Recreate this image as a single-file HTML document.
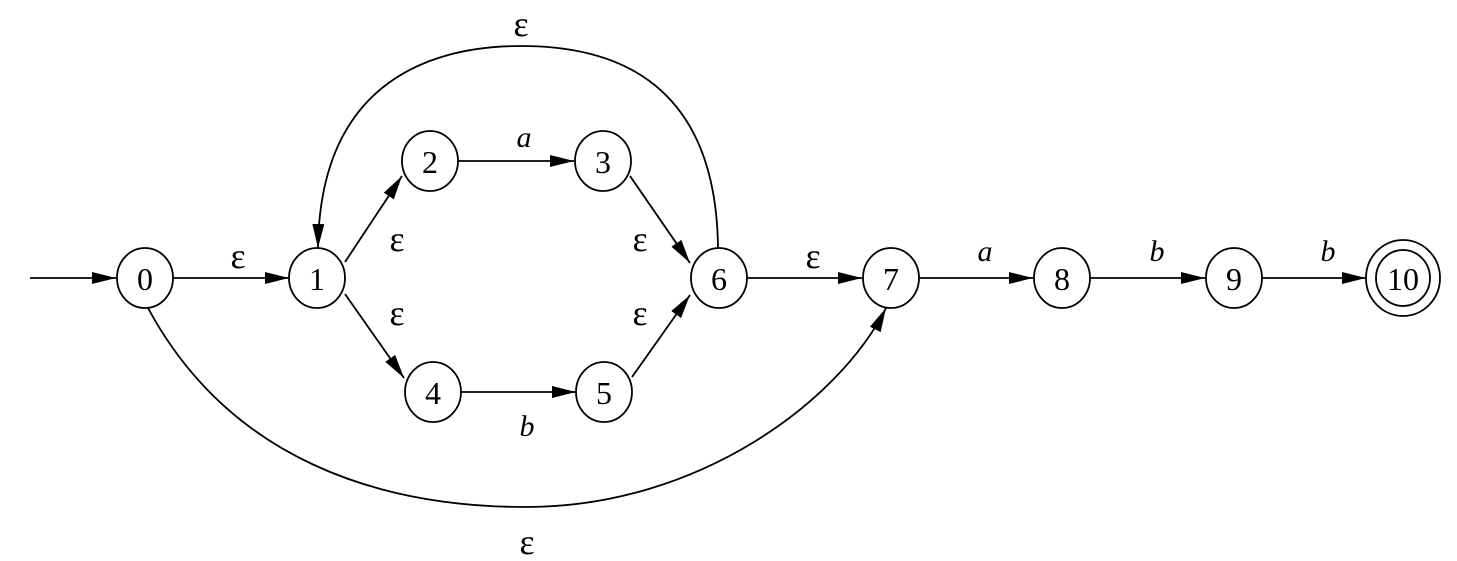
<!DOCTYPE html>
<html><head><style>html,body{margin:0;padding:0;background:#fff}</style></head>
<body>
<svg width="1457" height="556" viewBox="0 0 1457 556" xmlns="http://www.w3.org/2000/svg" font-family="Liberation Serif, serif">
<defs><marker id="ah" markerWidth="24" markerHeight="12" refX="24" refY="6" orient="auto" markerUnits="userSpaceOnUse"><path d="M0,0 L24,6 L0,12 z" fill="#000"/></marker></defs>
<g stroke="#000" stroke-width="1.8" fill="none">
<line x1="30" y1="278" x2="116" y2="278" marker-end="url(#ah)"/>
<line x1="173" y1="278" x2="289" y2="278" marker-end="url(#ah)"/>
<line x1="345" y1="262" x2="402" y2="176" marker-end="url(#ah)"/>
<line x1="345" y1="294" x2="404" y2="378" marker-end="url(#ah)"/>
<line x1="458" y1="161" x2="574" y2="161" marker-end="url(#ah)"/>
<line x1="461" y1="392" x2="576" y2="392" marker-end="url(#ah)"/>
<line x1="630" y1="176" x2="690" y2="263" marker-end="url(#ah)"/>
<line x1="632" y1="377" x2="690" y2="295" marker-end="url(#ah)"/>
<line x1="747" y1="278" x2="862" y2="278" marker-end="url(#ah)"/>
<line x1="919" y1="278" x2="1033" y2="278" marker-end="url(#ah)"/>
<line x1="1090" y1="278" x2="1205" y2="278" marker-end="url(#ah)"/>
<line x1="1262" y1="278" x2="1366" y2="278" marker-end="url(#ah)"/>
<path d="M718,248 C716,70 600,46 521,46 C420,46 320,90 318,248" marker-end="url(#ah)"/>
<path d="M148,308 C230,460 380,507 526,507 C700,507 840,400 886,308" marker-end="url(#ah)"/>
<ellipse cx="145" cy="278" rx="28" ry="30"/>
<ellipse cx="317" cy="278" rx="28" ry="30"/>
<ellipse cx="430" cy="161" rx="28" ry="30"/>
<ellipse cx="603" cy="161" rx="28" ry="30"/>
<ellipse cx="433" cy="392" rx="28" ry="30"/>
<ellipse cx="604" cy="392" rx="28" ry="30"/>
<ellipse cx="719" cy="278" rx="28" ry="30"/>
<ellipse cx="891" cy="278" rx="28" ry="30"/>
<ellipse cx="1062" cy="278" rx="28" ry="30"/>
<ellipse cx="1234" cy="278" rx="28" ry="30"/>
<ellipse cx="1403" cy="278" rx="37" ry="38"/>
<ellipse cx="1403" cy="278" rx="27" ry="28"/>
</g>
<g font-size="32" text-anchor="middle" fill="#000">
<text x="145" y="290">0</text><text x="317" y="290">1</text><text x="430" y="173">2</text>
<text x="603" y="173">3</text><text x="433" y="404">4</text><text x="604" y="404">5</text>
<text x="719" y="290">6</text><text x="891" y="290">7</text><text x="1062" y="290">8</text>
<text x="1234" y="290">9</text><text x="1403" y="290">10</text>
</g>
<g font-size="36" text-anchor="middle" fill="#000">
<text x="521" y="36">ε</text><text x="527" y="554">ε</text>
<text x="238" y="268">ε</text><text x="397" y="251">ε</text><text x="397" y="325">ε</text>
<text x="640" y="251">ε</text><text x="640" y="325">ε</text><text x="813" y="268">ε</text>
</g>
<g font-size="30" font-style="italic" text-anchor="middle" fill="#000">
<text x="524" y="147">a</text><text x="527" y="436">b</text>
<text x="985" y="261">a</text><text x="1157" y="261">b</text><text x="1328" y="261">b</text>
</g>
</svg>
</body></html>
